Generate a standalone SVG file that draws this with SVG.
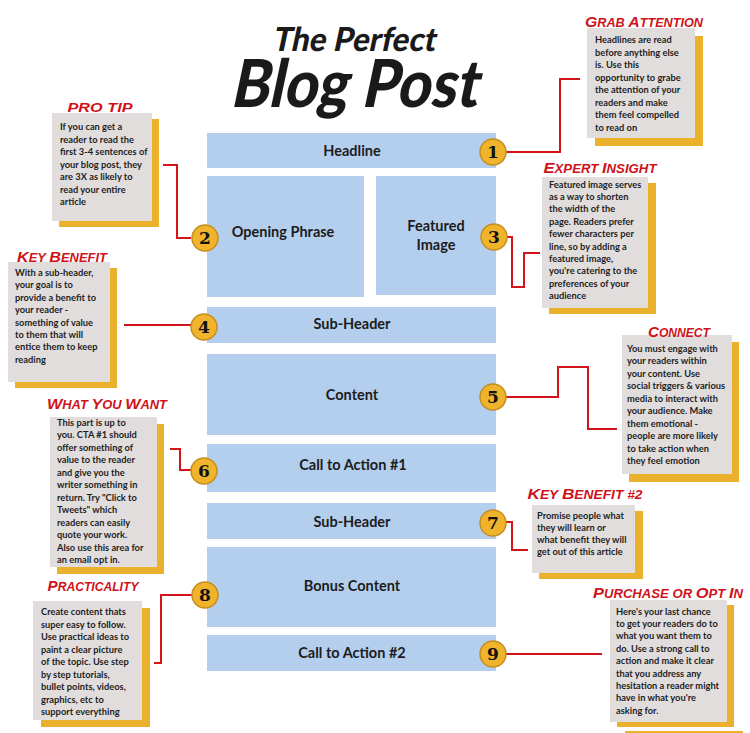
<svg xmlns="http://www.w3.org/2000/svg" width="750" height="733" viewBox="0 0 750 733">
<style>
.blk{fill:#b4cfee}
.lbl{font-family:Lato,"Liberation Sans",sans-serif;font-weight:700;font-size:14.5px;fill:#1c1c1c;text-anchor:middle}
.sh{fill:#ebb02c}
.card{fill:#e1dddd}
.ttl{font-family:"Liberation Sans",Arial,sans-serif;font-weight:700;font-style:italic;font-size:12px;fill:#d0121b;text-anchor:middle}
.cap{font-size:15px}
.body{font-family:Lato,"Liberation Sans",sans-serif;font-weight:700;font-size:9.3px;fill:#1e1e1e}
.badge circle{fill:#f0b42c;stroke:#c48f1f;stroke-width:1.5}
.badge text{font-family:"DejaVu Serif",serif;font-weight:700;font-size:17px;fill:#111;text-anchor:middle}
.con{fill:none;stroke:#d3141b;stroke-width:2}
.head{font-family:Lato,"Liberation Sans",sans-serif;font-weight:900;fill:#1a1a1a;text-anchor:middle}
</style>
<rect width="750" height="733" fill="#ffffff"/>
<g id="title">
<text class="head" x="364" y="51" font-size="33" textLength="163" lengthAdjust="spacingAndGlyphs" transform="skewX(-12)">The Perfect</text>
<text class="head" x="376" y="107" font-size="66" textLength="247" lengthAdjust="spacingAndGlyphs" transform="skewX(-12)">Blog Post</text>
</g>
<g id="connectors">
<path class="con" d="M506,152 H560 V79 H580"/>
<path class="con" d="M163,165 H177 V238 H191"/>
<path class="con" d="M506,237 H512 V287 H524 V253 H540"/>
<path class="con" d="M124,325 H191"/>
<path class="con" d="M506,397 H558 V367 H588 V429 H617"/>
<path class="con" d="M170,449 H180 V470 H191"/>
<path class="con" d="M506,522 H512 V550 H528"/>
<path class="con" d="M192,595 H161 V663 H154"/>
<path class="con" d="M506,654 H602"/>
</g>
<g id="blk-headline"><rect class="blk" x="207" y="133" width="289" height="35"/><text class="lbl" x="352" y="156">Headline</text></g>
<g id="blk-opening"><rect class="blk" x="207" y="176" width="157" height="121"/><text class="lbl" x="283" y="237">Opening Phrase</text></g>
<g id="blk-featured"><rect class="blk" x="376" y="176" width="120" height="119"/><text class="lbl" x="436" y="231">Featured</text><text class="lbl" x="436" y="250">Image</text></g>
<g id="blk-subheader1"><rect class="blk" x="207" y="307" width="289" height="36"/><text class="lbl" x="352" y="329">Sub-Header</text></g>
<g id="blk-content"><rect class="blk" x="207" y="354" width="289" height="81"/><text class="lbl" x="352" y="400">Content</text></g>
<g id="blk-cta1"><rect class="blk" x="207" y="444" width="289" height="48"/><text class="lbl" x="353" y="470">Call to Action #1</text></g>
<g id="blk-subheader2"><rect class="blk" x="207" y="503" width="289" height="36"/><text class="lbl" x="352" y="527">Sub-Header</text></g>
<g id="blk-bonus"><rect class="blk" x="207" y="547" width="289" height="80"/><text class="lbl" x="352" y="591">Bonus Content</text></g>
<g id="blk-cta2"><rect class="blk" x="207" y="635" width="289" height="36"/><text class="lbl" x="352" y="658">Call to Action #2</text></g>

<g id="badge1" class="badge"><circle cx="493" cy="152" r="13"/><text x="493" y="158">1</text></g>
<g id="badge2" class="badge"><circle cx="205" cy="238" r="13"/><text x="205" y="244">2</text></g>
<g id="badge3" class="badge"><circle cx="494" cy="237" r="13"/><text x="494" y="243">3</text></g>
<g id="badge4" class="badge"><circle cx="204" cy="327" r="13"/><text x="204" y="333">4</text></g>
<g id="badge5" class="badge"><circle cx="493" cy="397" r="13"/><text x="493" y="403">5</text></g>
<g id="badge6" class="badge"><circle cx="204" cy="471" r="13"/><text x="204" y="477">6</text></g>
<g id="badge7" class="badge"><circle cx="493" cy="523" r="13"/><text x="493" y="529">7</text></g>
<g id="badge8" class="badge"><circle cx="205" cy="595" r="13"/><text x="205" y="601">8</text></g>
<g id="badge9" class="badge"><circle cx="493" cy="654" r="13"/><text x="493" y="660">9</text></g>

<g id="note-pro-tip">
<rect class="sh" x="59" y="119" width="100" height="108"/><rect class="card" x="52" y="113" width="100" height="108"/>
<text class="ttl" x="100" y="112" textLength="65" lengthAdjust="spacingAndGlyphs">PRO TIP</text>
<text class="body" x="60" y="130"><tspan x="60">If you can get a</tspan><tspan x="60" dy="12.5">reader to read the</tspan><tspan x="60" dy="12.5">first 3-4 sentences of</tspan><tspan x="60" dy="12.5">your blog post, they</tspan><tspan x="60" dy="12.5">are 3X as likely to</tspan><tspan x="60" dy="12.5">read your entire</tspan><tspan x="60" dy="12.5">article</tspan></text>
</g>
<g id="note-key-benefit">
<rect class="sh" x="15" y="268" width="102" height="120"/><rect class="card" x="8" y="262" width="102" height="120"/>
<text class="ttl" x="62" y="262" textLength="90" lengthAdjust="spacingAndGlyphs"><tspan class="cap">K</tspan>EY <tspan class="cap">B</tspan>ENEFIT</text>
<text class="body" x="15" y="276"><tspan x="15">With a sub-header,</tspan><tspan x="15" dy="12.4">your goal is to</tspan><tspan x="15" dy="12.4">provide a benefit to</tspan><tspan x="15" dy="12.4">your reader -</tspan><tspan x="15" dy="12.4">something of value</tspan><tspan x="15" dy="12.4">to them that will</tspan><tspan x="15" dy="12.4">entice them to keep</tspan><tspan x="15" dy="12.4">reading</tspan></text>
</g>
<g id="note-what-you-want">
<rect class="sh" x="57" y="424" width="107" height="150"/><rect class="card" x="50" y="417" width="107" height="150"/>
<text class="ttl" x="107" y="409" textLength="120" lengthAdjust="spacingAndGlyphs"><tspan class="cap">W</tspan>HAT <tspan class="cap">Y</tspan>OU <tspan class="cap">W</tspan>ANT</text>
<text class="body" x="57" y="426"><tspan x="57">This part is up to</tspan><tspan x="57" dy="12.45">you. CTA #1 should</tspan><tspan x="57" dy="12.45">offer something of</tspan><tspan x="57" dy="12.45">value to the reader</tspan><tspan x="57" dy="12.45">and give you the</tspan><tspan x="57" dy="12.45">writer something in</tspan><tspan x="57" dy="12.45">return. Try "Click to</tspan><tspan x="57" dy="12.45">Tweets" which</tspan><tspan x="57" dy="12.45">readers can easily</tspan><tspan x="57" dy="12.45">quote your work.</tspan><tspan x="57" dy="12.45">Also use this area for</tspan><tspan x="57" dy="12.45">an email opt in.</tspan></text>
</g>
<g id="note-practicality">
<rect class="sh" x="41" y="608" width="109" height="119"/><rect class="card" x="33" y="601" width="109" height="119"/>
<text class="ttl" x="93" y="591" textLength="91" lengthAdjust="spacingAndGlyphs"><tspan class="cap">P</tspan>RACTICALITY</text>
<text class="body" x="41" y="615"><tspan x="41">Create content thats</tspan><tspan x="41" dy="12.5">super easy to follow.</tspan><tspan x="41" dy="12.5">Use practical ideas to</tspan><tspan x="41" dy="12.5">paint a clear picture</tspan><tspan x="41" dy="12.5">of the topic. Use step</tspan><tspan x="41" dy="12.5">by step tutorials,</tspan><tspan x="41" dy="12.5">bullet points, videos,</tspan><tspan x="41" dy="12.5">graphics, etc to</tspan><tspan x="41" dy="12.5">support everything</tspan></text>
</g>
<g id="note-grab-attention">
<rect class="sh" x="595" y="36" width="108" height="110"/><rect class="card" x="587" y="28" width="108" height="110"/>
<text class="ttl" x="644" y="27" textLength="118" lengthAdjust="spacingAndGlyphs"><tspan class="cap">G</tspan>RAB <tspan class="cap">A</tspan>TTENTION</text>
<text class="body" x="595" y="43"><tspan x="595">Headlines are read</tspan><tspan x="595" dy="12.5">before anything else</tspan><tspan x="595" dy="12.5">is. Use this</tspan><tspan x="595" dy="12.5">opportunity to grabe</tspan><tspan x="595" dy="12.5">the attention of your</tspan><tspan x="595" dy="12.5">readers and make</tspan><tspan x="595" dy="12.5">them feel compelled</tspan><tspan x="595" dy="12.5">to read on</tspan></text>
</g>
<g id="note-expert-insight">
<rect class="sh" x="549" y="183" width="107" height="131"/><rect class="card" x="542" y="177" width="106" height="131"/>
<text class="ttl" x="600" y="173" textLength="113" lengthAdjust="spacingAndGlyphs"><tspan class="cap">E</tspan>XPERT <tspan class="cap">I</tspan>NSIGHT</text>
<text class="body" x="549" y="187.5"><tspan x="549">Featured image serves</tspan><tspan x="549" dy="12.4">as a way to shorten</tspan><tspan x="549" dy="12.4">the width of the</tspan><tspan x="549" dy="12.4">page. Readers prefer</tspan><tspan x="549" dy="12.4">fewer characters per</tspan><tspan x="549" dy="12.4">line, so by adding a</tspan><tspan x="549" dy="12.4">featured image,</tspan><tspan x="549" dy="12.4">you're catering to the</tspan><tspan x="549" dy="12.4">preferences of your</tspan><tspan x="549" dy="12.4">audience</tspan></text>
</g>
<g id="note-connect">
<rect class="sh" x="629" y="342" width="110" height="140"/><rect class="card" x="622" y="335" width="110" height="139"/>
<text class="ttl" x="679" y="337" textLength="62" lengthAdjust="spacingAndGlyphs"><tspan class="cap">C</tspan>ONNECT</text>
<text class="body" x="627" y="351.5"><tspan x="627">You must engage with</tspan><tspan x="627" dy="12.55">your readers within</tspan><tspan x="627" dy="12.55">your content. Use</tspan><tspan x="627" dy="12.55">social triggers &amp; various</tspan><tspan x="627" dy="12.55">media to interact with</tspan><tspan x="627" dy="12.55">your audience. Make</tspan><tspan x="627" dy="12.55">them emotional -</tspan><tspan x="627" dy="12.55">people are more likely</tspan><tspan x="627" dy="12.55">to take action when</tspan><tspan x="627" dy="12.55">they feel emotion</tspan></text>
</g>
<g id="note-key-benefit-2">
<rect class="sh" x="539" y="511" width="104" height="68"/><rect class="card" x="532" y="505" width="103" height="68"/>
<text class="ttl" x="585" y="499" textLength="115" lengthAdjust="spacingAndGlyphs"><tspan class="cap">K</tspan>EY <tspan class="cap">B</tspan>ENEFIT #2</text>
<text class="body" x="537" y="518.5"><tspan x="537">Promise people what</tspan><tspan x="537" dy="12.3">they will learn or</tspan><tspan x="537" dy="12.3">what benefit they will</tspan><tspan x="537" dy="12.3">get out of this article</tspan></text>
</g>
<g id="note-purchase">
<rect class="sh" x="617" y="605" width="117" height="122"/><rect class="card" x="610" y="600" width="117" height="122"/>
<rect class="sh" x="625" y="731" width="118" height="2"/>
<text class="ttl" x="668" y="598" textLength="150" lengthAdjust="spacingAndGlyphs"><tspan class="cap">P</tspan>URCHASE OR <tspan class="cap">O</tspan>PT <tspan class="cap">I</tspan>N</text>
<text class="body" x="616" y="614.5"><tspan x="616">Here's your last chance</tspan><tspan x="616" dy="12.4">to get your readers do to</tspan><tspan x="616" dy="12.4">what you want them to</tspan><tspan x="616" dy="12.4">do. Use a strong call to</tspan><tspan x="616" dy="12.4">action and make it clear</tspan><tspan x="616" dy="12.4">that you address any</tspan><tspan x="616" dy="12.4">hesitation a reader might</tspan><tspan x="616" dy="12.4">have in what you're</tspan><tspan x="616" dy="12.4">asking for.</tspan></text>
</g>
</svg>
